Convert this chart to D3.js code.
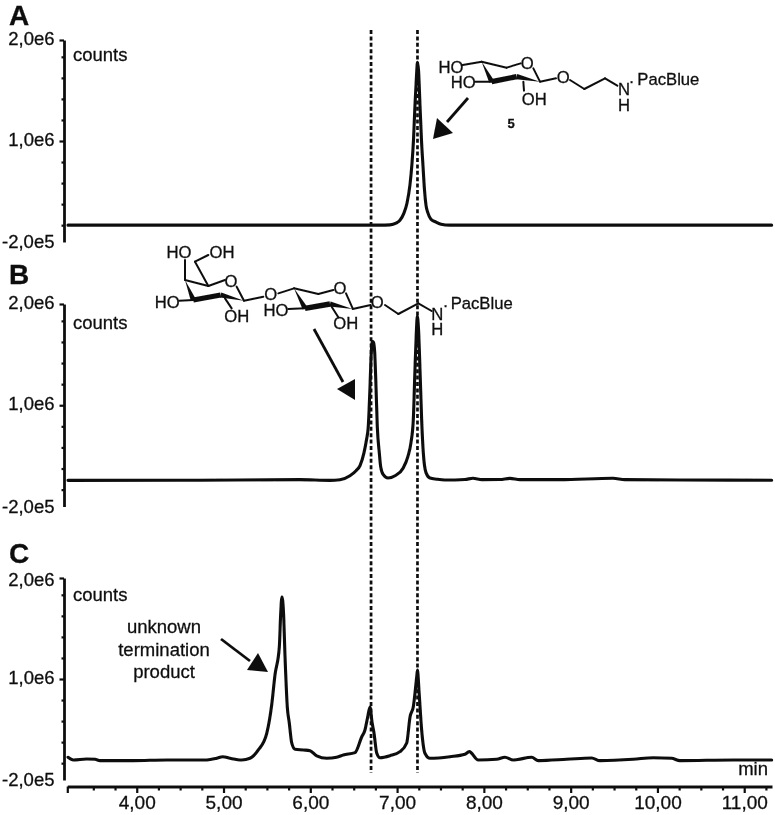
<!DOCTYPE html>
<html>
<head>
<meta charset="utf-8">
<script src="https://cdn.jsdelivr.net/npm/d3@7"></script>
<style>
html,body{margin:0;padding:0;background:#fff;}
svg{display:block;}
text{font-family:"Liberation Sans",Arial,sans-serif;fill:#111;stroke:#111;stroke-width:.3px;}
.chem text{stroke-width:.9px;}
</style>
</head>
<body>
<div id="chart"></div>
<script>
// ---------- data (minutes, counts in units of 1e6) ----------
const timesA = [3.208,6.803,6.918,6.987,7.033,7.079,7.114,7.148,7.172,7.189,7.206,7.224,7.235,7.247,7.264,7.281,7.298,7.316,7.333,7.356,7.390,7.448,7.506,7.609,11.316];
const countsA = [0,0,.004,.024,.059,.143,.261,.475,.736,1.01,1.425,1.781,1.936,1.841,1.425,1.01,.713,.416,.238,.143,.071,.036,.012,0,0];

const timesB = [3.208,4.729,5.881,6.227,6.342,6.457,6.527,6.573,6.619,6.648,6.668,6.688,6.699,6.714,6.728,6.742,6.757,6.772,6.795,6.811,6.841,6.895,6.976,7.071,7.125,7.160,7.187,7.206,7.221,7.233,7.247,7.264,7.283,7.302,7.333,7.379,7.456,7.552,7.782,7.874,7.978,8.185,8.300,8.416,8.876,9.487,9.625,10.259,11.316];
const countsB = [.110,.112,.118,.110,.118,.165,.224,.284,.438,.593,.747,1.222,1.543,1.757,1.745,1.626,1.222,.747,.438,.272,.177,.138,.165,.257,.394,.557,.830,1.424,1.840,2.053,1.899,1.424,.830,.438,.201,.138,.124,.114,.120,.135,.118,.120,.133,.118,.118,.135,.118,.114,.112];

const timesC = [3.208,3.270,3.424,3.520,3.577,3.957,4.346,4.806,4.922,4.991,5.075,5.210,5.305,5.401,5.498,5.555,5.593,5.643,5.659,5.673,5.691,5.709,5.735,5.758,5.786,5.824,5.920,5.997,6.074,6.189,6.304,6.380,6.515,6.592,6.630,6.659,6.688,6.711,6.734,6.765,6.803,6.918,7.033,7.111,7.149,7.187,7.226,7.235,7.252,7.283,7.321,7.379,7.609,7.782,7.832,7.935,8.147,8.243,8.339,8.551,8.627,8.954,9.242,9.337,9.721,9.951,10.163,10.259,10.873,11.316];
const countsC = [.070,.038,.050,.046,.030,.030,.038,.038,.058,.077,.058,.038,.058,.157,.355,.691,1.048,1.380,1.780,1.974,1.796,1.261,.667,.477,.240,.165,.157,.148,.086,.058,.070,.097,.125,.311,.394,.537,.667,.489,.359,.121,.065,.089,.137,.240,.549,.671,1.024,1.107,.869,.394,.118,.058,.077,.106,.137,.038,.046,.070,.038,.070,.030,.046,.062,.030,.046,.065,.058,.030,.038,.038];

const panelNames = ["A","B","C"];
const yTickValues = [2.2,1,-0.2];
const yTickLabels = ["2,0e6","1,0e6","-2,0e5"];
const yMinorTicks = [0,.25,.5,.75,1.25,1.5,1.75,2];
const xMajorTicks = [4,5,6,7,8,9,10,11];
const xMinorTicks = [3.5,3.75,4.25,4.5,4.75,5.25,5.5,5.75,6.25,6.5,6.75,7.25,7.5,7.75,8.25,8.5,8.75,9.25,9.5,9.75,10.25,10.5,10.75,11.25];
const markerTimes = [6.70,7.235];
const xDomain = [3.2,11.32];
const yDomain = [-0.2,2.2];

// ---------- layout ----------
const W = 775, H = 815;
const panelBox = [
  {top:40,bottom:242,label:25,counts:61,topDy:"0.24em"},
  {top:304,bottom:506.5,label:284,counts:329,topDy:"0.24em"},
  {top:578,bottom:780,label:563,counts:601,topDy:"0.38em"}
];

const svg = d3.select("#chart").append("svg").attr("width",W).attr("height",H).attr("viewBox",`0 0 ${W} ${H}`);
svg.append("rect").attr("width",W).attr("height",H).attr("fill","#fff");
const defs = svg.append("defs");
defs.append("filter").attr("id","soft").attr("x","-5%").attr("y","-5%").attr("width","110%").attr("height","110%")
  .append("feGaussianBlur").attr("stdDeviation",0.45);
const root = svg.append("g").attr("filter","url(#soft)");

const x = d3.scaleLinear().domain(xDomain).range([67.3,772]);
const series = [[timesA,countsA],[timesB,countsB],[timesC,countsC]];

// marker lines
root.selectAll(".marker").data(markerTimes).join("line")
  .attr("class","marker")
  .attr("x1",d=>x(d)).attr("x2",d=>x(d)).attr("y1",30).attr("y2",773)
  .attr("stroke","#111").attr("stroke-width",2.7).attr("stroke-dasharray","4 2.4");

const axisX = 64;
panelNames.forEach((name,i)=>{
  const box = panelBox[i];
  const y = d3.scaleLinear().domain(yDomain).range([box.bottom,box.top]);
  const g = root.append("g");

  const minor = d3.axisLeft(y).tickValues(yMinorTicks).tickSize(2.5).tickSizeOuter(0).tickFormat("");
  const gMinor = g.append("g").attr("transform",`translate(${axisX},0)`).call(minor);
  gMinor.select(".domain").attr("stroke","#111").attr("stroke-width",2.8);
  gMinor.selectAll(".tick line").attr("stroke","#111").attr("stroke-width",2.2);

  const major = d3.axisLeft(y).tickValues(yTickValues).tickSize(4.5).tickSizeOuter(0).tickPadding(5)
    .tickFormat((d,k)=>yTickLabels[k]);
  const gMajor = g.append("g").attr("transform",`translate(${axisX},0)`).call(major);
  gMajor.select(".domain").remove();
  gMajor.selectAll(".tick line").attr("stroke","#111").attr("stroke-width",2.2)
    .attr("opacity",d=>d<0?0:1);
  gMajor.selectAll(".tick text").attr("font-size",18.5)
    .attr("dy",(d,k)=>k===0?box.topDy:(k===1?"0.25em":"0.3em"));

  const [ts,vs] = series[i];
  const line = d3.line().x(d=>x(d[0])).y(d=>y(d[1])).curve(d3.curveMonotoneX);
  g.append("path").datum(d3.zip(ts,vs)).attr("d",line)
    .attr("fill","none").attr("stroke","#111").attr("stroke-width",3.1).attr("stroke-linejoin","round").attr("stroke-linecap","round");

  root.append("text").attr("x",9).attr("y",box.label).attr("font-size",28).attr("font-weight","bold").text(name);
  root.append("text").attr("x",73).attr("y",box.counts).attr("font-size",18.5).text("counts");
});

// x axis
const xAxisY = 786.5;
const gxMinor = root.append("g").attr("transform",`translate(0,${xAxisY})`)
  .call(d3.axisBottom(x).tickValues(xMinorTicks).tickSize(4).tickSizeOuter(0).tickFormat(""));
gxMinor.select(".domain").attr("stroke","#111").attr("stroke-width",2.8);
gxMinor.selectAll(".tick line").attr("stroke","#111").attr("stroke-width",2.2);
const gxMajor = root.append("g").attr("transform",`translate(0,${xAxisY})`)
  .call(d3.axisBottom(x).tickValues([xDomain[0]].concat(xMajorTicks)).tickSize(6.5).tickSizeOuter(0).tickPadding(3)
    .tickFormat(d=>d===xDomain[0]?"":d3.format(".2f")(d).replace(".",",")));
gxMajor.select(".domain").remove();
gxMajor.selectAll(".tick line").attr("stroke","#111").attr("stroke-width",2.2);
gxMajor.selectAll(".tick text").attr("font-size",19);

root.append("text").attr("x",768).attr("y",775).attr("text-anchor","end").attr("font-size",18.5).text("min");

// annotation: unknown termination product
[["unknown",633],["termination",655.5],["product",678]].forEach(([t,yy])=>{
  root.append("text").attr("x",164).attr("y",yy).attr("text-anchor","middle").attr("font-size",18.5).text(t);
});

// structures, drawn in 3x coordinates
function structure(ox,oy,bonds,bold,wedges,labels){
  const g = root.append("g").attr("class","chem").attr("transform",`translate(${ox},${oy}) scale(${1/3})`);
  g.selectAll(".b").data(bonds).join("line").attr("x1",d=>d[0]).attr("y1",d=>d[1]).attr("x2",d=>d[2]).attr("y2",d=>d[3])
    .attr("stroke","#111").attr("stroke-width",6).attr("stroke-linecap","round");
  g.selectAll(".bb").data(bold).join("line").attr("x1",d=>d[0]).attr("y1",d=>d[1]).attr("x2",d=>d[2]).attr("y2",d=>d[3])
    .attr("stroke","#111").attr("stroke-width",16).attr("stroke-linecap","butt");
  g.selectAll(".w").data(wedges).join("path").attr("fill","#111").attr("d",d=>{
    const [x1,y1,x2,y2]=d; const dx=x2-x1,dy=y2-y1,l=Math.hypot(dx,dy),nx=-dy/l*8,ny=dx/l*8;
    return `M${x1},${y1}L${x2+nx},${y2+ny}L${x2-nx},${y2-ny}Z`;
  });
  g.selectAll(".t").data(labels).join("text").attr("x",d=>d[1]).attr("y",d=>d[2]).attr("text-anchor",d=>d[3]||"middle")
    .attr("font-size",d=>d[4]||50).text(d=>d[0]);
}
structure(400,20,
  [[188,135,245,125],[245,125,320,143],[320,143,362,130],[400,145,420,185],[225,185,275,185],[370,185,372,212],[420,185,468,175],[510,180,553,207],[553,207,615,175],[615,175,652,197]],
  [[275,185,350,170]],
  [[245,125,275,185],[420,185,350,170]],
  [["HO",153,160],["HO",190,203],["O",382,146],["OH",403,255],["O",490,190],["N",672,226],["H",672,272],["PacBlue",712,196,"start"],[".",695,190]]
);
root.append("text").attr("x",511).attr("y",128).attr("text-anchor","middle").attr("font-size",13).attr("font-weight","bold").text("5");
structure(130,230,
  [[165,90,165,150],[195,95,235,75],[195,95,235,168],[165,150,235,168],[235,168,285,150],[320,170,342,212],[148,212,190,210],[285,205,305,235],[342,212,400,200],[445,190,492,175],[492,175,565,192],[565,192,610,180],[648,190,668,235],[475,237,525,235],[605,230,625,262],[668,237,722,225],[765,225,805,252],[805,252,865,220],[865,220,905,243]],
  [[190,210,272,195],[525,235,600,222]],
  [[165,150,190,210],[342,212,272,195],[492,175,525,235],[668,237,600,222]],
  [["HO",147,85],["OH",276,85],["O",303,171],["HO",112,233],["O",422,211],["OH",320,276],["O",630,193],["HO",438,258],["OH",647,298],["O",742,233],["N",922,271],["H",922,314],["PacBlue",962,238,"start"],[".",947,232]]
);

// arrows
const arrows = [
  {line:[468,98,447,122],head:[[433,139],[437,118],[453,133]]},
  {line:[314,329,343,382],head:[[355,400],[337,389],[355,379]]},
  {line:[221,639,250,661],head:[[268,672],[247,670],[258,653]]}
];
arrows.forEach(a=>{
  root.append("line").attr("x1",a.line[0]).attr("y1",a.line[1]).attr("x2",a.line[2]).attr("y2",a.line[3]).attr("stroke","#111").attr("stroke-width",2.8);
  root.append("polygon").attr("points",a.head.map(p=>p.join(",")).join(" ")).attr("fill","#111");
});
</script>
</body>
</html>
